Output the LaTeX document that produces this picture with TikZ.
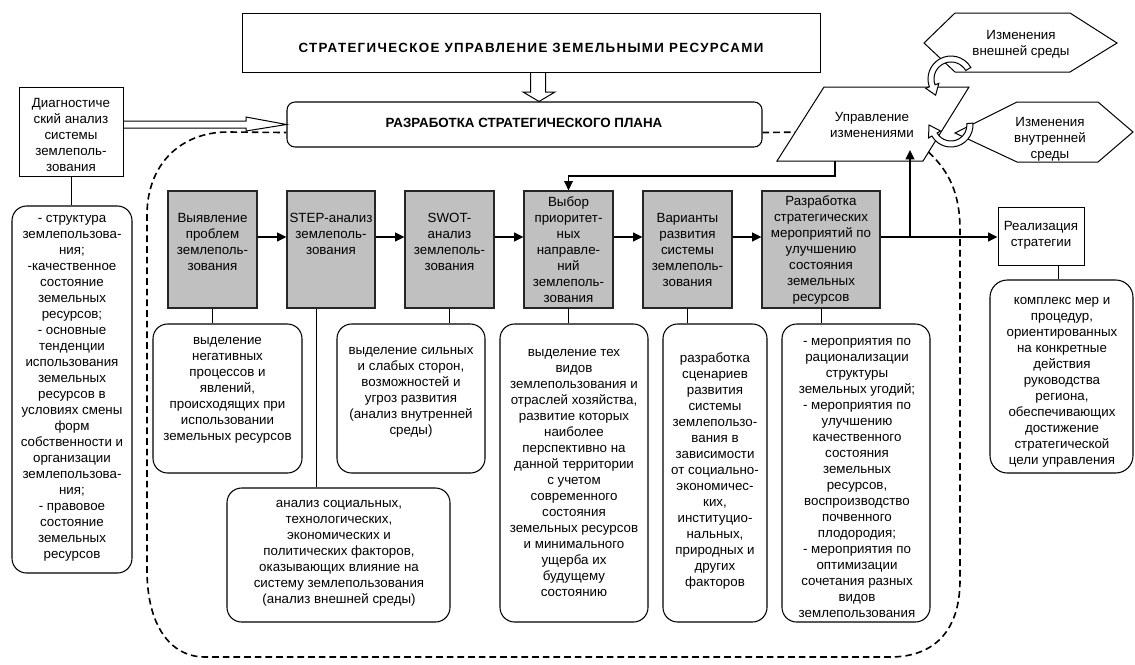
\documentclass[tikz,border=0pt]{standalone}
\usepackage{fontspec}
\setmainfont{Liberation Sans}
\newfontfamily\ttlfont[LetterSpace=10]{Liberation Sans}
\usetikzlibrary{arrows.meta,calc,fit}
\definecolor{boxgray}{RGB}{192,192,192}
\begin{document}
\begin{tikzpicture}[x=0.75pt,y=-0.75pt,
  txt/.style={align=center,inner sep=0pt,font=\fontsize{10pt}{12pt}\selectfont},
  box/.style={draw,line width=0.75pt,inner sep=0pt},
  gbox/.style={draw=black!85,fill=boxgray,line width=0.9pt,inner sep=0pt},
  rbox/.style={draw,line width=0.8pt,rounded corners=11pt,inner sep=0pt},
  conn/.style={line width=0.75pt},
  arr/.style={line width=1.4pt,-{Triangle[length=7pt,width=6.5pt]}},
  dsh/.style={line width=1.2pt,dash pattern=on 5pt off 3pt},
  hollow/.style={draw,fill=white,line width=0.75pt,line join=miter},
  outl/.style={draw,line width=0.75pt,line join=miter}
]
\useasboundingbox (0,0) rectangle (1135,664);

% ---------- top boxes ----------
\node[box,fit={(242,13)(820,72)}] (top) {};
\node[txt,font=\ttlfont\bfseries\fontsize{10pt}{12pt}\selectfont] (toptxt) at (531,47.5) {СТРАТЕГИЧЕСКОЕ УПРАВЛЕНИЕ ЗЕМЕЛЬНЫМИ РЕСУРСАМИ};

\node[rbox,rounded corners=6pt,fit={(287,102)(762,147)}] (plan) {};
\node[txt,font=\bfseries\fontsize{10pt}{12pt}\selectfont] (plantxt) at (524,122.5) {РАЗРАБОТКА СТРАТЕГИЧЕСКОГО ПЛАНА};

% hollow block arrow down
\draw[outl] (530.7,72) -- (530.7,92) -- (523,92) -- (plan.north -| 539,0) -- (555,92) -- (545.7,92) -- (545.7,72);

% ---------- diagnostic ----------
\node[box,fit={(19,87)(123,176)}] (diag) {};
\node[txt] (diagtxt) at (71,134.5) {Диагностиче\\ский анализ\\системы\\землеполь-\\зования};
\node[rbox,fit={(12,206)(132,573)}] (ldesc) {};
\node[txt] (ldesctxt) at (72,388) {- структура\\землепользова-\\ния;\\-качественное\\состояние\\земельных\\ресурсов;\\- основные\\тенденции\\использования\\земельных\\ресурсов в\\условиях смены\\форм\\собственности и\\организации\\землепользова-\\ния;\\- правовое\\состояние\\земельных\\ресурсов};
\draw[conn] (diag.south) -- (diag.south |- ldesc.north);

% hollow arrow diag -> plan
\draw[outl] (123,121) -- (246,121) -- (246,117) -- (plan.west) -- (246,131) -- (246,128) -- (123,128);

% ---------- change management ----------
\coordinate (pTL) at (824,87);
\coordinate (pTR) at (969,87);
\coordinate (pBR) at (923,161);
\coordinate (pBL) at (777,161);
\draw[outl] (pTL) -- (pTR) -- (pBR) -- (pBL) -- cycle;
\node[txt] (chg) at (872,125) {Управление\\изменениями};

\draw[outl] (924,43) -- (955,13) -- (1070,13) -- (1117,43) -- (1070,72) -- (955,72) -- cycle;
\node[txt] (hex1) at (1021,44) {Изменения\\внешней среды};
\draw[outl] (955,133) -- (1017,102) -- (1098,102) -- (1133,132) -- (1098,162) -- (1017,162) -- cycle;
\node[txt] (hex2) at (1050,139) {Изменения\\внутренней\\среды};

% curved hollow arrows
\draw[hollow] (970.9,67.5) arc[start angle=-30,end angle=-200,radius=23]
  -- (925.6,88.2) -- (935.6,95.2) -- (938.8,83.4) -- (935,84.8)
  arc[start angle=-200,end angle=-30,radius=17] -- cycle;
\draw[hollow] (972.9,123.1) arc[start angle=-5,end angle=150,radius=22]
  -- (928.5,138) -- (929,125) -- (940.6,131) -- (937.1,133)
  arc[start angle=150,end angle=-5,radius=16] -- cycle;

% ---------- dashed boundary ----------
\coordinate (dsA) at ($(pBR)!0.12!(pTR)$);
\coordinate (dsB) at ($(pBL)!0.39!(pTL)$);
\draw[dsh] ($(plan.south east)+(0,-15)$) -- (dsB);
\draw[dsh] (dsA) .. controls (950,172) and (960,195) .. (960,230) -- (960,580)
  .. controls (960,630) and (935,657) .. (890,657) -- (205,657)
  .. controls (170,657) and (147,625) .. (147,570) -- (147,215)
  .. controls (147,165) and (180,132) .. (228,132) -- ($(plan.south west)+(0,-15)$);

% ---------- gray step boxes ----------
\node[gbox,fit={(168,191)(257,308)}] (b1) {};
\node[txt] (t1) at (212.5,241.5) {Выявление\\проблем\\землеполь-\\зования};
\node[gbox,fit={(287,191)(375,308)}] (b2) {};
\node[txt] (t2) at (331,233.5) {STEP-анализ\\землеполь-\\зования};
\node[gbox,fit={(405,191)(494,308)}] (b3) {};
\node[txt] (t3) at (449.5,241.5) {SWOT-\\анализ\\землеполь-\\зования};
\node[gbox,fit={(524,191)(613,308)}] (b4) {};
\node[txt] (t4) at (568.5,250) {Выбор\\приоритет-\\ных\\направле-\\ний\\землеполь-\\зования};
\node[gbox,fit={(643,191)(732,308)}] (b5) {};
\node[txt] (t5) at (687.5,249.5) {Варианты\\развития\\системы\\землеполь-\\зования};
\node[gbox,fit={(762,191)(880,308)}] (b6) {};
\node[txt] (t6) at (821,250) {Разработка\\стратегических\\мероприятий по\\улучшению\\состояния\\земельных\\ресурсов};

\node[box,fit={(998,207)(1084,265)}] (real) {};
\node[txt] (realtxt) at (1041,235) {Реализация\\стратегии};

% ---------- arrows ----------
\coordinate (ay) at (0,237);
\draw[arr] (b1.east |- ay) -- (b2.west |- ay);
\draw[arr] (b2.east |- ay) -- (b3.west |- ay);
\draw[arr] (b3.east |- ay) -- (b4.west |- ay);
\draw[arr] (b4.east |- ay) -- (b5.west |- ay);
\draw[arr] (b5.east |- ay) -- (b6.west |- ay);
\draw[arr] (b6.east |- ay) -- (real.west |- ay);
\coordinate (jn) at (910,237);
\coordinate (chgIn) at (910,150);
\draw[arr] (jn) -- (chgIn);
\coordinate (fb) at (835,161);
\draw[arr,line width=1.1pt] (fb) -- (835,176) -| (b4.north);

% ---------- description boxes ----------
\node[rbox,fit={(153,324)(302,473)}] (d1) {};
\node[txt] (d1t) at (227.5,390.5) {выделение\\негативных\\процессов и\\явлений,\\происходящих при\\использовании\\земельных ресурсов};
\node[rbox,fit={(337,324)(485,473)}] (d3) {};
\node[txt] (d3t) at (411,392) {выделение сильных\\и слабых сторон,\\возможностей и\\угроз развития\\(анализ внутренней\\среды)};
\node[rbox,fit={(227,488)(450,622)}] (d2) {};
\node[txt] (d2t) at (339,553) {анализ социальных,\\технологических,\\экономических и\\политических факторов,\\оказывающих влияние на\\систему землепользования\\(анализ внешней среды)};
\node[rbox,fit={(500,324)(648,622)}] (d4) {};
\node[txt] (d4t) at (574,472.5) {выделение тех\\видов\\землепользования и\\отраслей хозяйства,\\развитие которых\\наиболее\\перспективно на\\данной территории\\с учетом\\современного\\состояния\\земельных ресурсов\\и минимального\\ущерба их\\будущему\\состоянию};
\node[rbox,fit={(663,324)(767,622)}] (d5) {};
\node[txt] (d5t) at (715,471) {разработка\\сценариев\\развития\\системы\\землепользо-\\вания в\\зависимости\\от социально-\\экономичес-\\ких,\\институцио-\\нальных,\\природных и\\других\\факторов};
\node[rbox,fit={(782,324)(930,622)}] (d6) {};
\node[txt] (d6t) at (857,478) {- мероприятия по\\рационализации\\структуры\\земельных угодий;\\- мероприятия по\\улучшению\\качественного\\состояния\\земельных\\ресурсов,\\воспроизводство\\почвенного\\плодородия;\\- мероприятия по\\оптимизации\\сочетания разных\\видов\\землепользования};
\node[rbox,rounded corners=13pt,fit={(990,280)(1133,473)}] (rdesc) {};
\node[txt] (rdesct) at (1062,382.5) {комплекс мер и\\процедур,\\ориентированных\\на конкретные\\действия\\руководства\\региона,\\обеспечивающих\\достижение\\стратегической\\цели управления};

\draw[conn] (b1.south) -- (b1.south |- d1.north);
\coordinate (b2c) at ($(b2.south west)+(30,0)$);
\draw[conn] (b2c) -- (b2c |- d2.north);
\draw[conn] (b3.south) -- (b3.south |- d3.north);
\draw[conn] (b4.south) -- (b4.south |- d4.north);
\draw[conn] (b5.south) -- (b5.south |- d5.north);
\draw[conn] (b6.south) -- (b6.south |- d6.north);
\coordinate (rc) at ($(real.south)+(17,0)$);
\draw[conn] (rc) -- (rc |- rdesc.north);
\end{tikzpicture}
\end{document}
